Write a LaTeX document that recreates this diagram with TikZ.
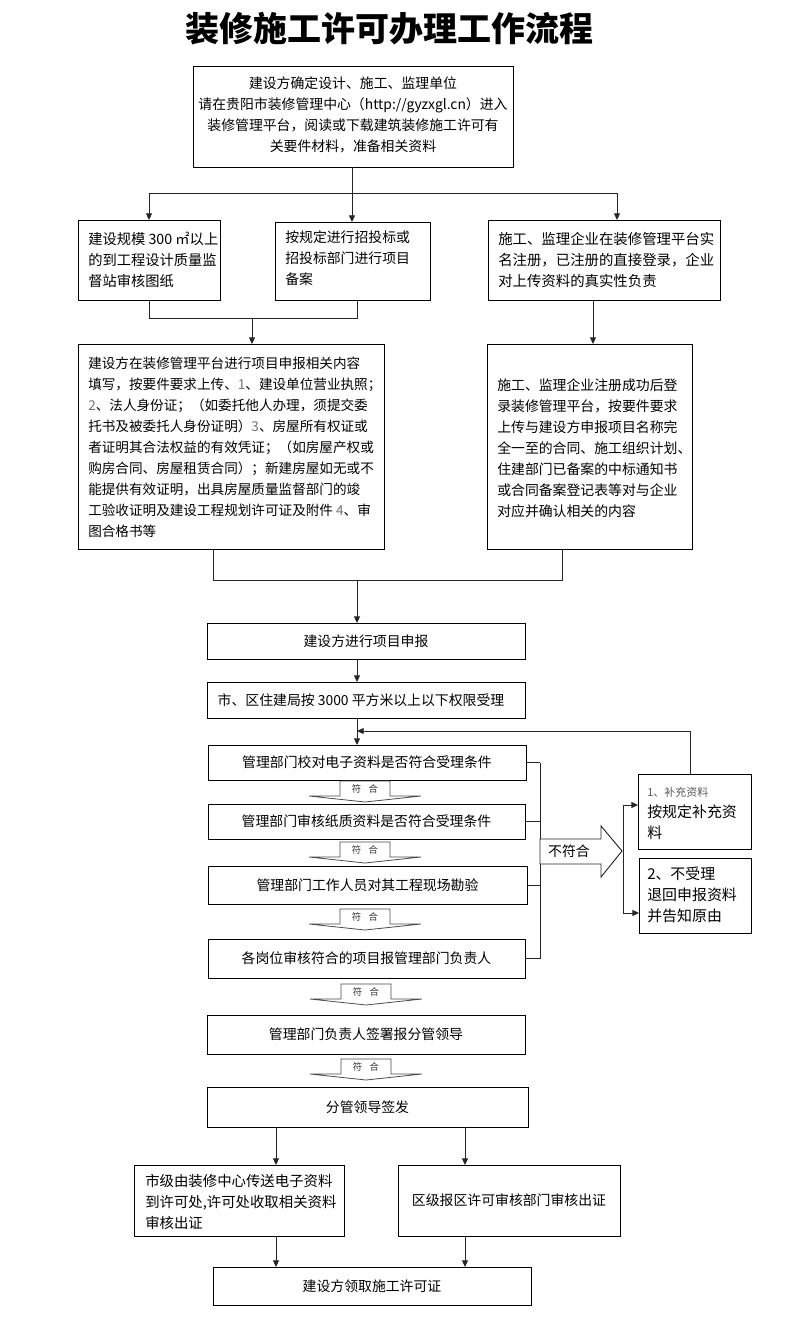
\documentclass[tikz,border=0pt]{standalone}
\usepackage{fontspec}
\setmainfont{Noto Sans CJK SC}
\usetikzlibrary{arrows.meta,fit}
\newcommand\gnum[1]{\textcolor{black!55}{#1}}
\tikzset{
  box/.style={draw=black, line width=0.7pt, inner sep=0pt, outer sep=0pt},
  ctxt/.style={inner sep=0pt, font=\fontsize{10.4}{15.75}\selectfont, align=center},
  txt/.style={inner sep=0pt, font=\fontsize{10.4}{15.75}\selectfont, align=left, anchor=west},
  conn/.style={draw=black!85, line width=0.7pt},
  arr/.style={conn, -{Triangle[length=5pt,width=4.5pt]}},
  fuhe/.pic={
    \path[draw=black!70, line width=0.6pt, fill=white] (-25,0) -- (25,0) -- (25,15) -- (56,15) -- (0,21) -- (-56,15) -- (-25,15) -- cycle;
    \node[inner sep=0pt, font=\fontsize{7}{8}\selectfont, text=black!80] (-t) at (0,7.5) {符\hspace{0.8em}合};
  }
}
\begin{document}
\begin{tikzpicture}[x=0.75pt,y=-0.75pt]
\path[use as bounding box, fill=white] (0,0) rectangle (799,1328);

\node[font=\fontsize{25.5}{30}\selectfont\bfseries, inner sep=0pt] (title) at (389,29) {装修施工许可办理工作流程};

\node[box, fit={(193,66)(513,167)}] (top) {};
\node[ctxt] (topt) at (353,115) {建设方确定设计、施工、监理单位\\请在贵阳市装修管理中心（http://gyzxgl.cn）进入\\装修管理平台，阅读或下载建筑装修施工许可有\\关要件材料，准备相关资料};

\node[box, fit={(78,220)(220,300)}] (A) {};
\node[txt, font=\fontsize{10.7}{15.75}\selectfont] (At) at (88,260) {建设规模 300 ㎡以上\\的到工程设计质量监\\督站审核图纸};
\node[box, fit={(275,222)(430,300)}] (B) {};
\node[txt] (Bt) at (285,258) {按规定进行招投标或\\招投标部门进行项目\\备案};
\node[box, fit={(488,220)(720,300)}] (C) {};
\node[txt, font=\fontsize{10.8}{15.75}\selectfont] (Ct) at (498,260) {施工、监理企业在装修管理平台实\\名注册，已注册的直接登录，企业\\对上传资料的真实性负责};

\node[box, fit={(78,344)(384,549)}] (D) {};
\node[txt, font=\fontsize{10.2}{15.75}\selectfont] (Dt) at (88,447.5) {建设方在装修管理平台进行项目申报相关内容\\填写，按要件要求上传、\gnum{1}、建设单位营业执照；\\\gnum{2}、法人身份证；（如委托他人办理，须提交委\\托书及被委托人身份证明）\gnum{3}、房屋所有权证或\\者证明其合法权益的有效凭证；（如房屋产权或\\购房合同、房屋租赁合同）；新建房屋如无或不\\能提供有效证明，出具房屋质量监督部门的竣\\工验收证明及建设工程规划许可证及附件 \gnum{4}、审\\图合格书等};
\node[box, fit={(487,344)(692,549)}] (E) {};
\node[txt] (Et) at (497,448.5) {施工、监理企业注册成功后登\\录装修管理平台，按要件要求\\上传与建设方申报项目名称完\\全一至的合同、施工组织计划、\\住建部门已备案的中标通知书\\或合同备案登记表等对与企业\\对应并确认相关的内容};

\node[box, fit={(207,623)(525,659)}] (F) {};
\node[ctxt] (Ft) at (F.center) {建设方进行项目申报};
\node[box, fit={(207,682)(525,718)}] (G) {};
\node[ctxt] (Gt) at (361,700) {市、区住建局按 3000 平方米以上以下权限受理};

\node[box, fit={(208,745)(526,780)}] (H1) {};
\node[ctxt] (H1t) at (H1.center) {管理部门校对电子资料是否符合受理条件};
\node[box, fit={(208,804)(525,839)}] (H2) {};
\node[ctxt] (H2t) at (H2.center) {管理部门审核纸质资料是否符合受理条件};
\node[box, fit={(208,866)(527,904)}] (H3) {};
\node[ctxt] (H3t) at (H3.center) {管理部门工作人员对其工程现场勘验};
\node[box, fit={(208,939)(525,978)}] (H4) {};
\node[ctxt] (H4t) at (H4.center) {各岗位审核符合的项目报管理部门负责人};
\node[box, fit={(207,1015)(525,1054)}] (H5) {};
\node[ctxt] (H5t) at (H5.center) {管理部门负责人签署报分管领导};
\node[box, fit={(207,1087)(528,1127)}] (H6) {};
\node[ctxt] (H6t) at (H6.center) {分管领导签发};

\pic (f1) at (365,781) {fuhe};
\pic (f2) at (365,842) {fuhe};
\pic (f3) at (365,909) {fuhe};
\pic (f4) at (366,984) {fuhe};
\pic (f5) at (366,1059) {fuhe};

\node[box, fit={(638,774)(751,849)}] (I) {};
\node[txt, font=\fontsize{8.25}{10}\selectfont, text=black!65] (It1) at (647,792) {1、补充资料};
\node[txt, font=\fontsize{11.2}{15.75}\selectfont] (It2) at (647,822) {按规定补充资\\料};
\node[box, fit={(639,858)(751,933)}] (J) {};
\node[txt, font=\fontsize{11.2}{15.75}\selectfont] (Jt) at (647,895) {2、不受理\\退回申报资料\\并告知原由};

\node[box, fit={(134,1165)(344,1236)}] (K) {};
\node[txt, font=\fontsize{10.8}{15.75}\selectfont] (Kt) at (145,1202) {市级由装修中心传送电子资料\\到许可处,许可处收取相关资料\\审核出证};
\node[box, fit={(398,1165)(620,1236)}] (L) {};
\node[ctxt] (Lt) at (L.center) {区级报区许可审核部门审核出证};
\node[box, fit={(213,1267)(531,1305)}] (M) {};
\node[ctxt] (Mt) at (M.center) {建设方领取施工许可证};

% connectors top part
\coordinate (j1) at (352,193);
\coordinate (j1r) at (617,193);
\draw[conn] (top.south -| j1) -- (j1);
\draw[conn] (A.north |- j1) -- (j1r);
\draw[arr] (A.north |- j1) -- (A.north);
\draw[arr] (j1) -- (j1 |- B.north);
\draw[arr] (j1r) -- (j1r |- C.north);

\coordinate (j2) at (252,318);
\coordinate (j2r) at (357,318);
\draw[conn] (A.south) -- (A.south |- j2) -- (j2r) -- (j2r |- B.south);
\draw[arr] (j2) -- (j2 |- D.north);
\coordinate (c5) at (593,0);
\draw[arr] (c5 |- C.south) -- (c5 |- E.north);

\coordinate (j3) at (357,580);
\coordinate (j3l) at (213,580);
\coordinate (j3r) at (562,580);
\draw[conn] (j3l |- D.south) -- (j3l) -- (j3r) -- (j3r |- E.south);
\draw[arr] (j3) -- (j3 |- F.north);
\draw[arr] (j3 |- F.south) -- (j3 |- G.north);
\draw[arr] (j3 |- G.south) -- (j3 |- H1.north);

\coordinate (fb) at (690,731);
\draw[arr] (fb |- I.north) -- (fb) -- (j3 |- fb);

% bracket and not-conforming arrow
\coordinate (br) at (540,0);
\foreach \n in {H1,H2,H3,H4} \draw[conn] (\n.east) -- (\n.east -| br);
\draw[conn] (br |- H1.east) -- (br |- H4.east);
\draw[draw=black!85, line width=0.7pt, fill=white] (540,839) -- (601,839) -- (601,826) -- (622,851) -- (601,877) -- (601,864) -- (540,864) -- cycle;
\node[inner sep=0pt, font=\fontsize{10.4}{12}\selectfont] (nf) at (569,851) {不符合};

\coordinate (fI) at (623,805);
\coordinate (fJ) at (623,913);
\draw[conn] (fI) -- (fJ);
\draw[arr] (fI) -- (fI -| I.west);
\draw[arr] (fJ) -- (fJ -| J.west);

% bottom
\coordinate (xk) at (276,0);
\coordinate (xl) at (465,0);
\draw[arr] (xk |- H6.south) -- (xk |- K.north);
\draw[arr] (xl |- H6.south) -- (xl |- L.north);
\draw[arr] (xk |- K.south) -- (xk |- M.north);
\draw[arr] (xl |- L.south) -- (xl |- M.north);
\end{tikzpicture}
\end{document}
